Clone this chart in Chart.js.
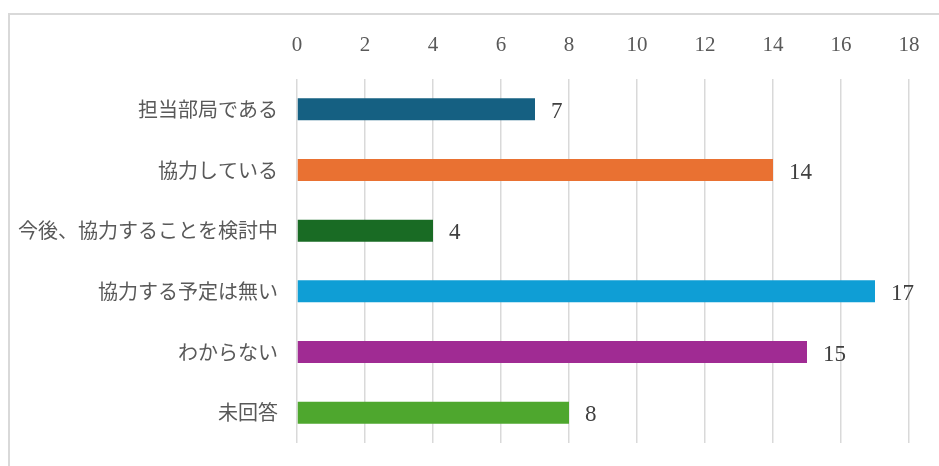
<!DOCTYPE html>
<html><head><meta charset="utf-8">
<script src="https://cdn.jsdelivr.net/npm/chart.js@4"></script>
<style>
html,body{margin:0;padding:0;background:#fff;overflow:hidden;}
#wrap{position:relative;width:939px;height:466px;overflow:hidden;}
#frame{position:absolute;left:8px;top:13px;width:2000px;height:2000px;border:2px solid #d9d9d9;box-sizing:border-box;}
canvas{position:absolute;left:0;top:0;}
</style></head><body>
<div id="wrap"><div id="frame"></div><canvas id="c" width="939" height="466"></canvas></div>
<script>
const categories = ['担当部局である','協力している','今後、協力することを検討中','協力する予定は無い','わからない','未回答'];
const values = [7, 14, 4, 17, 15, 8];
const barColors = ['#156082','#E97132','#196B24','#0F9ED5','#A02B93','#4EA72E'];
const axisMin = 0, axisMax = 18, axisStep = 2;

const valueLabels = {
  id: 'valueLabels',
  afterDatasetsDraw(chart) {
    const ctx = chart.ctx;
    const meta = chart.getDatasetMeta(0);
    ctx.save();
    ctx.font = '23px "Liberation Serif", serif';
    ctx.fillStyle = '#404040';
    ctx.textAlign = 'left';
    ctx.textBaseline = 'alphabetic';
    meta.data.forEach((bar, i) => {
      ctx.fillText(String(values[i]), bar.x + 16, bar.y + 8.5);
    });
    ctx.restore();
  }
};

function noPad(s) { s.paddingTop = 0; s.paddingBottom = 0; s.paddingLeft = 0; s.paddingRight = 0; }

new Chart(document.getElementById('c'), {
  type: 'bar',
  data: {
    labels: categories,
    datasets: [{
      data: values,
      backgroundColor: barColors,
      borderWidth: 0,
      categoryPercentage: 1,
      barPercentage: 0.363
    }]
  },
  plugins: [valueLabels],
  options: {
    indexAxis: 'y',
    responsive: false,
    animation: false,
    layout: { padding: { left: 0, top: 0, right: 30, bottom: 23 } },
    plugins: { legend: { display: false }, tooltip: { enabled: false } },
    scales: {
      x: {
        position: 'top',
        min: axisMin, max: axisMax,
        ticks: { stepSize: axisStep, color: '#595959', font: { family: '"Liberation Serif", serif', size: 21 }, padding: 21 },
        grid: { color: '#D9D9D9', lineWidth: 1.5, drawTicks: false },
        border: { display: false },
        afterFit(s) { s.height = 79; noPad(s); }
      },
      y: {
        ticks: { color: '#595959', font: { family: '"Noto Sans CJK JP", sans-serif', size: 20 }, padding: 19 },
        grid: { display: false, drawTicks: false },
        border: { display: false },
        afterFit(s) { s.width = 297; noPad(s); }
      }
    }
  }
});
</script>
</body></html>
